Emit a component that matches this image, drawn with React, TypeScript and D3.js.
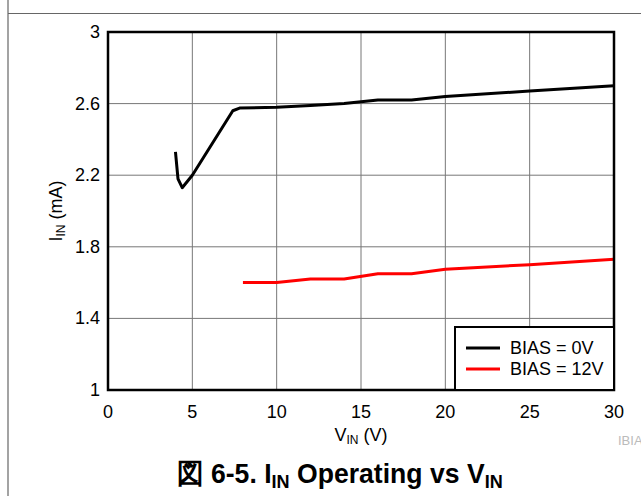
import React from "react";
import * as d3 from "d3";

const xTicks = [0, 5, 10, 15, 20, 25, 30];
const yTicks = [1, 1.4, 1.8, 2.2, 2.6, 3];
const yTickLabels = ["1", "1.4", "1.8", "2.2", "2.6", "3"];

const bias0X = [4.0, 4.15, 4.4, 5.0, 7.4, 7.8, 10, 12, 14, 16, 18, 20, 25, 30];
const bias0Y = [2.33, 2.18, 2.13, 2.2, 2.56, 2.575, 2.58, 2.59, 2.6, 2.62, 2.62, 2.64, 2.67, 2.7];
const bias12X = [8, 10, 12, 14, 16, 18, 20, 25, 30];
const bias12Y = [1.6, 1.6, 1.62, 1.62, 1.65, 1.65, 1.675, 1.7, 1.73];

const seriesNames = ["BIAS = 0V", "BIAS = 12V"];
const seriesColors = ["#000000", "#ff0000"];

export default function App() {
  const W = 641, H = 496;
  const L = 108, R = 614, T = 32, B = 390;
  const x = d3.scaleLinear().domain([0, 30]).range([L, R]);
  const y = d3.scaleLinear().domain([1, 3]).range([B, T]);
  const line = d3
    .line<[number, number]>()
    .x((d) => x(d[0]))
    .y((d) => y(d[1]));
  const d0 = bias0X.map((v, i) => [v, bias0Y[i]] as [number, number]);
  const d12 = bias12X.map((v, i) => [v, bias12Y[i]] as [number, number]);
  const font = "'Liberation Sans', Arial, sans-serif";
  const fs = 18;

  return (
    <svg
      width={W}
      height={H}
      style={{ position: "absolute", left: 0, top: 0, fontFamily: font }}
    >
      <rect x={0} y={0} width={W} height={H} fill="#fff" />
      {/* page frame */}
      <line x1={8} y1={0} x2={8} y2={H} stroke="#666" strokeWidth={1.2} />
      <line x1={8} y1={13.5} x2={W} y2={13.5} stroke="#666" strokeWidth={1.2} />

      {/* grid */}
      {xTicks.slice(1, -1).map((t) => (
        <line key={"gx" + t} x1={x(t)} x2={x(t)} y1={T} y2={B} stroke="#777" strokeWidth={1} />
      ))}
      {yTicks.slice(1, -1).map((t) => (
        <line key={"gy" + t} x1={L} x2={R} y1={y(t)} y2={y(t)} stroke="#777" strokeWidth={1} />
      ))}

      {/* data */}
      <path d={line(d0) || ""} fill="none" stroke={seriesColors[0]} strokeWidth={3} strokeLinejoin="round" />
      <path d={line(d12) || ""} fill="none" stroke={seriesColors[1]} strokeWidth={3} strokeLinejoin="round" />

      {/* frame */}
      <rect x={L} y={T} width={R - L} height={B - T} fill="none" stroke="#000" strokeWidth={2.5} />

      {/* tick labels */}
      {yTicks.map((t, i) => (
        <text key={"ty" + t} x={L - 8} y={y(t) + 6} textAnchor="end" fontSize={fs} fill="#000">
          {yTickLabels[i]}
        </text>
      ))}
      {xTicks.map((t) => (
        <text key={"tx" + t} x={x(t)} y={418} textAnchor="middle" fontSize={fs} fill="#000">
          {t}
        </text>
      ))}

      {/* axis labels */}
      <text x={(L + R) / 2} y={441} textAnchor="middle" fontSize={fs} fill="#000">
        V<tspan fontSize={12} dy={3}>IN</tspan>
        <tspan dy={-3}> (V)</tspan>
      </text>
      <text
        transform={`translate(62, ${(T + B) / 2}) rotate(-90)`}
        textAnchor="middle"
        fontSize={fs}
        fill="#000"
      >
        I<tspan fontSize={12} dy={3}>IN</tspan>
        <tspan dy={-3}> (mA)</tspan>
      </text>

      {/* legend */}
      <rect x={455} y={327} width={R - 455} height={B - 327} fill="#fff" stroke="#000" strokeWidth={2} />
      {seriesNames.map((n, i) => (
        <g key={n}>
          <line x1={466} x2={500} y1={348 + i * 21} y2={348 + i * 21} stroke={seriesColors[i]} strokeWidth={3} />
          <text x={510} y={354 + i * 21} fontSize={fs} fill="#000">
            {n}
          </text>
        </g>
      ))}

      <text x={618} y={445} fontSize={13} fill="#bbb">IBIA</text>

      {/* title */}
      <g transform="translate(340, 483) scale(0.95, 1)">
        <text x={0} y={0} textAnchor="middle" fontSize={28} fontWeight="bold" fill="#000">
          図 6-5. I<tspan fontSize={19} dy={5}>IN</tspan>
          <tspan dy={-5}> Operating vs V</tspan>
          <tspan fontSize={19} dy={5}>IN</tspan>
        </text>
      </g>
    </svg>
  );
}
